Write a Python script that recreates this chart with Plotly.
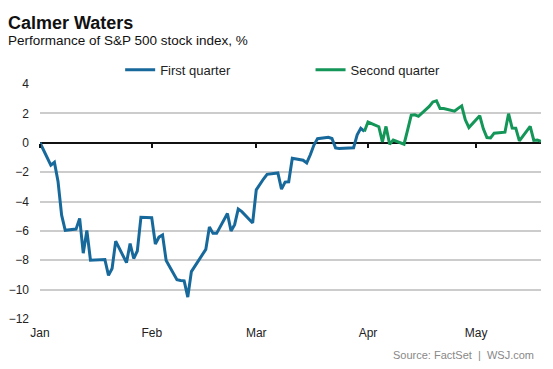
import plotly.graph_objects as go

# ---- Data (percent change vs. 2015 close) ----
q1_dates = ["2016-01-01", "2016-01-04", "2016-01-05", "2016-01-06", "2016-01-07", "2016-01-08",
            "2016-01-11", "2016-01-12", "2016-01-13", "2016-01-14", "2016-01-15",
            "2016-01-19", "2016-01-20", "2016-01-21", "2016-01-22",
            "2016-01-25", "2016-01-26", "2016-01-27", "2016-01-28", "2016-01-29",
            "2016-02-01", "2016-02-02", "2016-02-03", "2016-02-04", "2016-02-05",
            "2016-02-08", "2016-02-09", "2016-02-10", "2016-02-11", "2016-02-12",
            "2016-02-16", "2016-02-17", "2016-02-18", "2016-02-19",
            "2016-02-22", "2016-02-23", "2016-02-24", "2016-02-25", "2016-02-26",
            "2016-02-29", "2016-03-01", "2016-03-02", "2016-03-03", "2016-03-04",
            "2016-03-07", "2016-03-08", "2016-03-09", "2016-03-10", "2016-03-11",
            "2016-03-14", "2016-03-15", "2016-03-16", "2016-03-17", "2016-03-18",
            "2016-03-21", "2016-03-22", "2016-03-23", "2016-03-24",
            "2016-03-28", "2016-03-29", "2016-03-30", "2016-03-31"]
q1_values = [0.0, -1.53, -1.33, -2.63, -4.93, -5.96,
             -5.88, -5.15, -7.52, -5.97, -8.00,
             -7.95, -9.03, -8.56, -6.70,
             -8.16, -6.86, -7.88, -7.37, -5.07,
             -5.11, -6.89, -6.43, -6.28, -8.02,
             -9.32, -9.38, -9.40, -10.51, -8.77,
             -7.26, -5.73, -6.17, -6.17,
             -4.82, -6.00, -5.58, -4.51, -4.69,
             -5.46, -3.21, -2.81, -2.47, -2.15,
             -2.06, -3.16, -2.68, -2.66, -1.06,
             -1.19, -1.37, -0.82, -0.16, 0.28,
             0.37, 0.29, -0.35, -0.39,
             -0.34, 0.54, 0.98, 0.77]

q2_dates = ["2016-03-31", "2016-04-01", "2016-04-04", "2016-04-05", "2016-04-06", "2016-04-07", "2016-04-08",
            "2016-04-11", "2016-04-12", "2016-04-13", "2016-04-14", "2016-04-15",
            "2016-04-18", "2016-04-19", "2016-04-20", "2016-04-21", "2016-04-22",
            "2016-04-25", "2016-04-26", "2016-04-27", "2016-04-28", "2016-04-29",
            "2016-05-02", "2016-05-03", "2016-05-04", "2016-05-05", "2016-05-06",
            "2016-05-09", "2016-05-10", "2016-05-11", "2016-05-12", "2016-05-13",
            "2016-05-16", "2016-05-17", "2016-05-18", "2016-05-19"]
q2_values = [0.77, 1.41, 1.09, 0.06, 1.11, -0.10, 0.18,
             -0.10, 0.87, 1.88, 1.90, 1.80,
             2.47, 2.78, 2.86, 2.33, 2.33,
             2.15, 2.34, 2.51, 1.56, 1.04,
             1.84, 0.95, 0.35, 0.33, 0.65,
             0.72, 1.98, 1.00, 0.99, 0.13,
             1.11, 0.16, 0.18, 0.10]

month_ticks = ["2016-01-01", "2016-02-01", "2016-03-01", "2016-04-01", "2016-05-01"]
month_labels = ["Jan", "Feb", "Mar", "Apr", "May"]
y_ticks = [4, 2, 0, -2, -4, -6, -8, -10, -12]

x_range = ["2016-01-01", "2016-05-19"]
y_range = [-12, 4]

BLUE = "#18699b"
GREEN = "#139658"
FONT = "Liberation Sans, Arial, sans-serif"

fig = go.Figure()
fig.add_trace(go.Scatter(x=q1_dates, y=q1_values, mode="lines", name="First quarter",
                         line=dict(color=BLUE, width=3), hoverinfo="skip", legend="legend"))
fig.add_trace(go.Scatter(x=q2_dates, y=q2_values, mode="lines", name="Second quarter",
                         line=dict(color=GREEN, width=3), hoverinfo="skip", legend="legend2"))
# invisible trace to host the tick axis on the zero line
fig.add_trace(go.Scatter(x=q1_dates, y=q1_values, xaxis="x2", mode="lines",
                         line=dict(width=0), opacity=0, showlegend=False, hoverinfo="skip"))

ypos0 = (0 - y_range[0]) / (y_range[1] - y_range[0])

leg_common = dict(orientation="h", xanchor="left", yanchor="middle", y=1.06,
                  font=dict(size=13, color="#222222"), bgcolor="rgba(0,0,0,0)")

fig.update_layout(
    width=553, height=369,
    margin=dict(l=40, r=12, t=84, b=50, autoexpand=False),
    paper_bgcolor="white", plot_bgcolor="white",
    font=dict(family=FONT, color="#222222", size=12),
    showlegend=True,
    legend=dict(x=0.16, **leg_common),
    legend2=dict(x=0.54, **leg_common),
    xaxis=dict(type="date", range=x_range, tickvals=month_ticks, ticktext=month_labels,
               showgrid=False, zeroline=False, showline=False, ticks="",
               tickfont=dict(size=12, color="#222222"), ticklabelstandoff=5, automargin=False),
    xaxis2=dict(type="date", range=x_range, tickvals=month_ticks, ticktext=month_labels,
                overlaying="x", anchor="free", position=ypos0, side="bottom",
                showgrid=False, zeroline=False, showline=False, showticklabels=False,
                ticks="outside", ticklen=4, tickwidth=2, tickcolor="#111111"),
    yaxis=dict(range=y_range, tickvals=y_ticks, showgrid=True, gridcolor="#cccccc", gridwidth=1.5,
               zeroline=True, zerolinecolor="#111111", zerolinewidth=2, showline=False, ticks="",
               tickfont=dict(size=12, color="#222222"), ticklabelstandoff=10, automargin=False),
    annotations=[
        dict(text="<b>Calmer Waters</b>", xref="paper", yref="paper", x=-0.068, y=1.258,
             xanchor="left", yanchor="middle", showarrow=False,
             font=dict(size=18, color="#111111", family=FONT)),
        dict(text="Performance of S&P 500 stock index, %", xref="paper", yref="paper",
             x=-0.068, y=1.186, xanchor="left", yanchor="middle", showarrow=False,
             font=dict(size=13.5, color="#111111", family=FONT)),
        dict(text="Source: FactSet  |  WSJ.com", xref="paper", yref="paper", x=0.99, y=-0.155,
             xanchor="right", yanchor="middle", showarrow=False,
             font=dict(size=11, color="#888888", family=FONT)),
    ],
)

fig.write_html("out.html", config={"displayModeBar": False},
               post_script="document.body.style.margin='0';")
